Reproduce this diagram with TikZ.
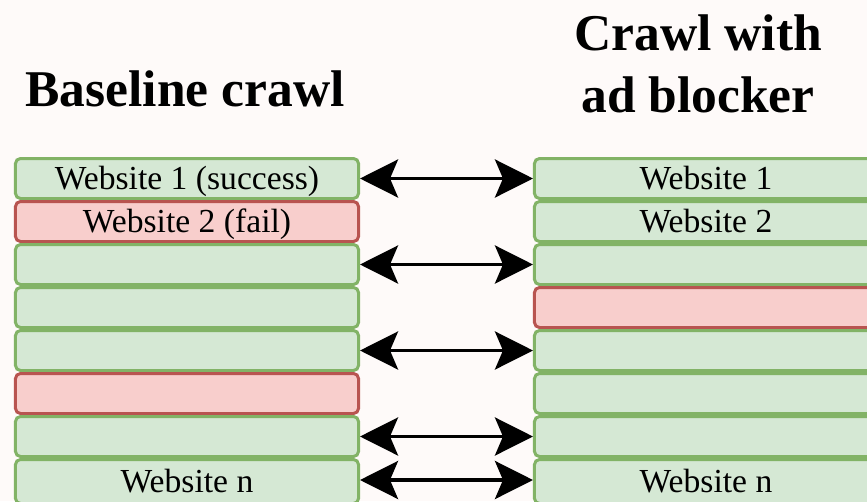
\documentclass[tikz,border=0pt]{standalone}
\usepackage{fontspec}
\setmainfont{Liberation Serif}
\usetikzlibrary{arrows.meta}
\definecolor{okfill}{HTML}{D5E8D4}
\definecolor{okline}{HTML}{82B366}
\definecolor{badfill}{HTML}{F8CECC}
\definecolor{badline}{HTML}{B85450}
\definecolor{paper}{RGB}{254,250,249}
\begin{document}
\begin{tikzpicture}[x=.03cm,y=-.03cm,
    site/.style={draw=okline,fill=okfill,line width=.09cm,rounded corners=.15cm,
      minimum width=10.29cm,minimum height=1.2cm,inner sep=0pt,anchor=north,
      font=\fontsize{28.7}{30}\selectfont,text height=21pt,text depth=1.4pt},
    lastsite/.style={site,minimum height=1.32cm},
    failed/.style={site,draw=badline,fill=badfill},
    title/.style={font=\fontsize{44}{53}\selectfont\bfseries,align=center,inner sep=0pt},
    match/.style={line width=.11cm,
      {Stealth[length=1.14cm,width=1.14cm,inset=.24cm]}-{Stealth[length=1.14cm,width=1.14cm,inset=.24cm]}}]
    \fill[paper] (0,0) rectangle (867,501);
    \useasboundingbox (0,0) rectangle (867,501);
    \node[title,anchor=base] (base) at (185,106) {Baseline crawl};
    \node[title] (adb) at (698,63.5) {Crawl with\\ad blocker};
    \foreach \i/\ls/\lt/\rs/\rt in {1/site/Website 1 (success)/site/Website 1,
        2/failed/Website 2 (fail)/site/Website 2,3/site/{}/site/{},4/site/{}/failed/{},
        5/site/{}/site/{},6/failed/{}/site/{},7/site/{}/site/{},8/lastsite/Website n/lastsite/Website n}{
      \node[\ls] (l\i) at (187,114+43*\i) {\lt};
      \node[\rs] (r\i) at (706,114+43*\i) {\rt};
    }
    \foreach \i in {1,3,5,7}
    \draw[match] (l\i) -- (r\i);
    \draw[match] (l8.east|-0,480) -- (r8.west|-0,480);
  \end{tikzpicture}
\end{document}
